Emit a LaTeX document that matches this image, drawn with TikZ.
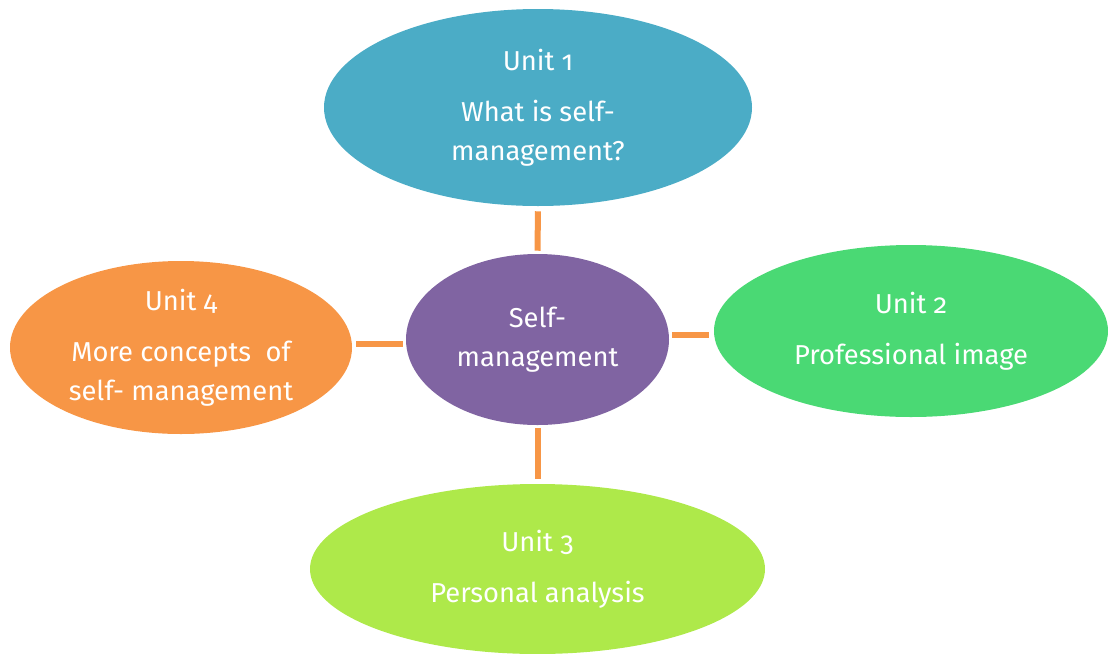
\documentclass[tikz,border=0pt]{standalone}
\usepackage{fontspec}
\setmainfont[Numbers=OldStyle]{Fira Sans}
\usepackage{tikz}
\usetikzlibrary{shapes.geometric}
\usepackage{xcolor}
\definecolor{unitteal}{HTML}{4BACC6}
\definecolor{unitpurple}{HTML}{8064A2}
\definecolor{unitorange}{HTML}{F79646}
\definecolor{unitgreen}{HTML}{4AD974}
\definecolor{unitlime}{HTML}{AEE94A}

\begin{document}
\begin{tikzpicture}[x=0.75pt,y=-0.75pt,
  unit/.style={ellipse,inner sep=0pt,text=white,align=center,
    font=\fontsize{20.5}{29.25}\selectfont},
  link/.style={unitorange,line width=4.5pt}]
  \useasboundingbox (0,0) rectangle (1108,654);

  % Draw centre
  \node[unit,fill=unitpurple,minimum width=197.25pt,minimum height=128.25pt] (core) at (537.5,339.5) {Self-\\management};

  % Draw units
  \node[unit,fill=unitteal,minimum width=321pt,minimum height=147.75pt] (unit1) at (538,107.5) {Unit 1\\[9pt]What is self-\\management?};
  \node[unit,fill=unitgreen,minimum width=295.5pt,minimum height=129pt] (unit2) at (911,331) {Unit 2\\[9pt]Professional image};
  \node[unit,fill=unitlime,minimum width=341.25pt,minimum height=127.5pt] (unit3) at (537.5,569) {Unit 3\\[9pt]Personal analysis};
  \node[unit,fill=unitorange,minimum width=256.5pt,minimum height=129.75pt] (unit4) at (181,347.5) {Unit 4\\[9pt]More concepts\ \ of\\self- management};

  % Draw links
  \draw[link,shorten <=2.25pt,shorten >=3.75pt] (core.north) -- (unit1.south);
  \draw[link,shorten <=2.25pt,shorten >=3.75pt] (core.2) -- (core.2 -| unit2.west);
  \draw[link,shorten <=2.25pt,shorten >=3.75pt] (core.south) -- (unit3.north);
  \draw[link,shorten <=2.25pt,shorten >=3pt] (core.182) -- (core.182 -| unit4.east);
\end{tikzpicture}
\end{document}
